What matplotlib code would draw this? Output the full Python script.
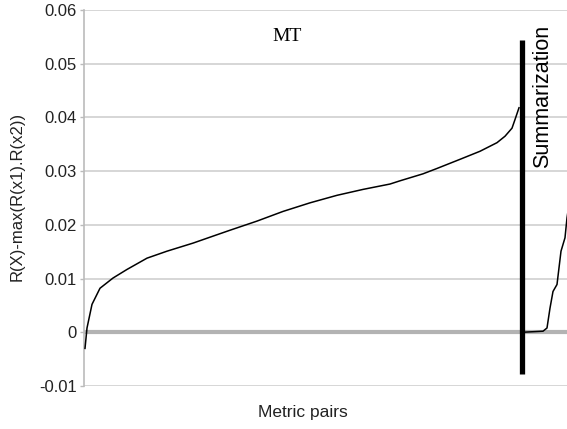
import matplotlib
matplotlib.use("Agg")
import matplotlib.pyplot as plt

# sorted metric pairs (rank -> difference)
mt_rank = [1, 3, 8, 16, 29, 43, 63, 83, 109, 129, 146, 173, 199, 226, 253,
           279, 306, 316, 339, 353, 376, 396, 413, 421, 428, 431, 435]
mt_diff = [-0.003, 0.0008, 0.0052, 0.0082, 0.0101, 0.0117, 0.0138, 0.0151,
           0.0166, 0.0179, 0.0190, 0.0207, 0.0225, 0.0241, 0.0255, 0.0266,
           0.0276, 0.0282, 0.0295, 0.0305, 0.0322, 0.0337, 0.0353, 0.0365,
           0.0380, 0.0396, 0.0418]

sum_rank = [438, 459, 463, 466, 469, 473, 475, 477, 481, 483, 486]
sum_diff = [0.0, 0.0002, 0.0008, 0.0045, 0.0076, 0.0089, 0.0120, 0.0151,
            0.0176, 0.0213, 0.0250]

split_rank = 438
yticks = [-0.01, 0, 0.01, 0.02, 0.03, 0.04, 0.05, 0.06]
ylabels = ["-0.01", "0", "0.01", "0.02", "0.03", "0.04", "0.05", "0.06"]

plt.rcParams['font.family'] = ['Liberation Sans', 'DejaVu Sans']

fig = plt.figure(figsize=(5.67, 4.29), dpi=100)
ax = fig.add_axes([84/567, 1-386/429, 1-84/567, (386-10)/429])

# grid
for v in yticks:
    ax.axhline(v, color='#cfcfcf', lw=1.2, zorder=0)
ax.axhline(0, color='#b3b3b3', lw=3.0, zorder=1)

ax.plot(mt_rank, mt_diff, color='black', lw=1.1, zorder=3)
ax.plot(sum_rank, sum_diff, color='black', lw=1.1, zorder=3)
ax.vlines(split_rank, -0.0078, 0.0544, color='black', lw=3.8, zorder=4)

ax.text(203, 0.0551, "MT", family='Liberation Serif', fontsize=14,
        ha='center', va='center')
ax.text(459, 0.0439, "Summarization", fontsize=15.5, rotation=90,
        ha='center', va='center')

ax.set_xlim(0, 483)
ax.set_ylim(-0.01, 0.06)
ax.set_yticks(yticks)
ax.set_yticklabels(ylabels, fontsize=12, color='#222222')
ax.set_xticks([])
ax.tick_params(axis='y', length=3, width=1, color='#bbbbbb', pad=2)
for s in ['top', 'right', 'bottom']:
    ax.spines[s].set_visible(False)
ax.spines['left'].set_color('#bbbbbb')
ax.spines['left'].set_linewidth(1.2)

fig.text(17/567, 1-196/429, "R(X)-max(R(x1).R(x2))", rotation=90,
         fontsize=12, color='#222222', ha='center', va='center')
fig.text(303/567, 1-413/429, "Metric pairs", fontsize=12.5, color='#222222',
         ha='center', va='center')

fig.savefig("out.png", dpi=100)
